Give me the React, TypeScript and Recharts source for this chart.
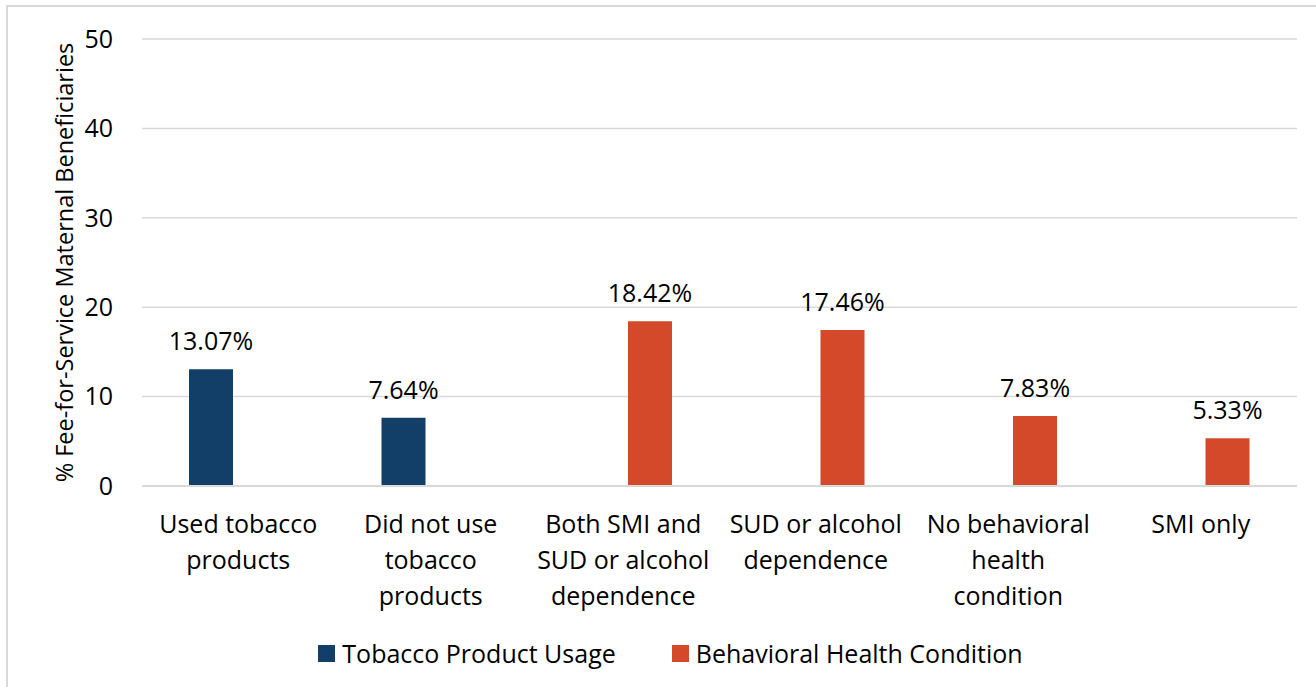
import React from 'react';
import { BarChart, Bar, XAxis, YAxis, CartesianGrid, Legend, LabelList } from 'recharts';

const categories = [
  'Used tobacco products',
  'Did not use tobacco products',
  'Both SMI and SUD or alcohol dependence',
  'SUD or alcohol dependence',
  'No behavioral health condition',
  'SMI only',
];

// line breaks for the category labels under the axis
const tickLines = [
  ['Used tobacco', 'products'],
  ['Did not use', 'tobacco', 'products'],
  ['Both SMI and', 'SUD or alcohol', 'dependence'],
  ['SUD or alcohol', 'dependence'],
  ['No behavioral', 'health', 'condition'],
  ['SMI only'],
];

const tobaccoUsage = [13.07, 7.64, null, null, null, null];
const behavioralHealth = [null, null, 18.42, 17.46, 7.83, 5.33];

const yTicks = [0, 10, 20, 30, 40, 50];

const NAVY = '#123F68';
const ORANGE = '#D4492A';
const FONT = '"Open Sans", Lato, sans-serif';
const FS = 25;

const data = categories.map((name, i) => ({
  name,
  tobacco: tobaccoUsage[i],
  behavioral: behavioralHealth[i],
}));

const CategoryTick = (props: any) => {
  const { x, y, payload } = props;
  const lines = tickLines[payload.index] || [payload.value];
  return (
    <text x={x} y={y} textAnchor="middle" fill="#000" fontSize={FS} fontFamily={FONT}>
      {lines.map((line: string, i: number) => (
        <tspan key={i} x={x} dy={i === 0 ? 39 : 36}>
          {line}
        </tspan>
      ))}
    </text>
  );
};

const ValueLabel = (props: any) => {
  const { x, y, width, value } = props;
  if (value == null) return null;
  return (
    <text x={x + width / 2} y={y - 19} textAnchor="middle" fill="#000" fontSize={FS} fontFamily={FONT}>
      {`${Number(value).toFixed(2)}%`}
    </text>
  );
};

const LegendContent = () => (
  <div
    style={{
      display: 'flex',
      justifyContent: 'center',
      paddingTop: 10,
      paddingLeft: 44,
      fontFamily: FONT,
      fontSize: FS,
      color: '#000',
    }}
  >
    {[
      { label: 'Tobacco Product Usage', color: NAVY },
      { label: 'Behavioral Health Condition', color: ORANGE },
    ].map((item) => (
      <div key={item.label} style={{ display: 'flex', alignItems: 'center', margin: '0 28px' }}>
        <span style={{ width: 17, height: 17, background: item.color, marginRight: 7, display: 'inline-block' }} />
        <span>{item.label}</span>
      </div>
    ))}
  </div>
);

const App = () => (
  <div style={{ position: 'absolute', left: 0, top: 0, width: 1316, height: 687, overflow: 'hidden', background: '#fff' }}>
    <div
      style={{
        position: 'absolute',
        left: 6,
        top: 5,
        width: 1400,
        height: 800,
        border: '2px solid #d9d9d9',
        boxSizing: 'border-box',
      }}
    />
    <div style={{ position: 'absolute', left: 0, top: 0 }}>
      <BarChart
        width={1316}
        height={687}
        data={data}
        margin={{ top: 39, right: 19, bottom: 0, left: 0 }}
        barGap={10}
        barSize={44}
      >
        <CartesianGrid vertical={false} stroke="#d9d9d9" strokeWidth={1.5} />
        <XAxis
          dataKey="name"
          axisLine={{ stroke: '#d9d9d9', strokeWidth: 2 }}
          tickLine={false}
          tick={<CategoryTick />}
          interval={0}
          height={140}
        />
        <YAxis
          domain={[0, 50]}
          ticks={yTicks}
          axisLine={false}
          tickLine={false}
          width={142}
          tickMargin={23}
          tick={{ fill: '#000', fontSize: FS, fontFamily: FONT }}
          label={{
            value: '% Fee-for-Service Maternal Beneficiaries',
            angle: -90,
            position: 'insideLeft',
            offset: 0,
            dx: 65,
            style: { textAnchor: 'middle', fill: '#000', fontSize: 23.5, fontFamily: FONT },
          }}
        />
        <Legend verticalAlign="bottom" height={61} content={<LegendContent />} />
        <Bar dataKey="tobacco" name="Tobacco Product Usage" fill={NAVY} isAnimationActive={false}>
          <LabelList dataKey="tobacco" content={<ValueLabel />} />
        </Bar>
        <Bar dataKey="behavioral" name="Behavioral Health Condition" fill={ORANGE} isAnimationActive={false}>
          <LabelList dataKey="behavioral" content={<ValueLabel />} />
        </Bar>
      </BarChart>
    </div>
  </div>
);

export default App;
